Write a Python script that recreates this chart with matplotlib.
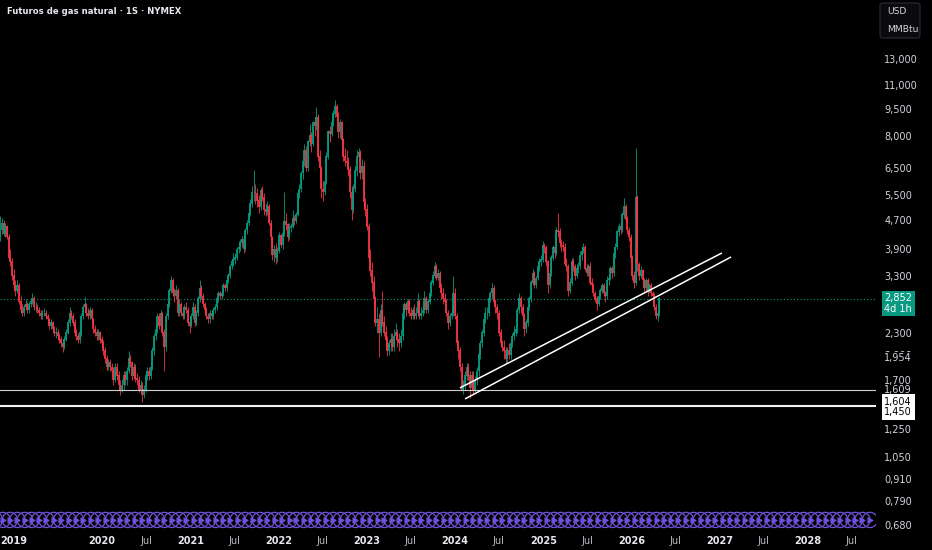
import numpy as np
import pandas as pd
import matplotlib
matplotlib.use('Agg')
import matplotlib.pyplot as plt
import matplotlib.dates as mdates
from matplotlib.ticker import NullLocator, FixedLocator
from matplotlib.patches import FancyBboxPatch

plt.rcParams['font.family'] = ['DejaVu Sans']

title = 'Futuros de gas natural · 1S · NYMEX'
first_week = '2018-11-05'
first_open = 4.2

# weekly closes (USD/MMBtu), one row per quarter
closes = [
    4.4, 4.6, 4.3, 4.5, 4.2, 3.7, 3.6, 3.3,
    3.1, 3.0, 3.1, 2.8, 2.65, 2.6, 2.7, 2.75, 2.65, 2.75, 2.8, 2.85, 2.7,
    2.7, 2.65, 2.6, 2.55, 2.6, 2.6, 2.55, 2.5, 2.4, 2.45, 2.35, 2.3, 2.3,
    2.25, 2.2, 2.15, 2.1, 2.2, 2.3, 2.45, 2.6, 2.55, 2.45, 2.3, 2.25, 2.2,
    2.3, 2.55, 2.7, 2.75, 2.6, 2.55, 2.65, 2.5, 2.35, 2.3, 2.25, 2.3, 2.2,
    2.15, 2.05, 1.95, 1.85, 1.9, 1.85, 1.8, 1.7, 1.85, 1.75, 1.65, 1.6, 1.65,
    1.75, 1.7, 1.8, 1.95, 1.9, 1.75, 1.85, 1.72, 1.7, 1.6, 1.65, 1.55, 1.6,
    1.75, 1.8, 1.75, 1.85, 2.05, 2.25, 2.35, 2.55, 2.4, 2.6, 2.3, 2.1, 2.55,
    2.75, 3.0, 3.2, 2.95, 2.9, 3.0, 2.6, 2.75, 2.6, 2.55, 2.7, 2.65, 2.45,
    2.4, 2.55, 2.7, 2.45, 2.6, 2.85, 3.05, 2.9, 2.75, 2.65, 2.55, 2.5, 2.6,
    2.55, 2.65, 2.7, 2.85, 2.95, 2.9, 2.95, 3.1, 3.05, 3.2, 3.3, 3.5, 3.6,
    3.65, 3.7, 3.9, 3.95, 4.05, 4.15, 3.9, 4.4, 4.6, 4.9, 5.2, 5.6, 5.6,
    5.55, 5.3, 5.1, 5.65, 5.4, 5.0, 4.95, 5.1, 4.6, 4.2, 3.75, 3.9, 3.7,
    3.85, 4.25, 4.0, 4.3, 4.65, 4.55, 4.2, 4.45, 4.5, 4.75, 4.65, 4.85, 5.55,
    5.7, 6.3, 6.8, 7.3, 6.5, 7.7, 8.0, 7.6, 8.7, 8.5, 9.0, 7.0, 6.5,
    5.7, 5.6, 6.0, 7.0, 8.2, 8.1, 8.7, 9.2, 9.6, 9.0, 8.2, 8.7, 7.8,
    7.0, 6.8, 6.75, 6.45, 5.6, 5.0, 5.7, 6.4, 7.0, 7.2, 6.3, 6.6, 5.25,
    5.0, 4.5, 3.7, 3.4, 3.15, 2.85, 2.45, 2.5, 2.3, 2.65, 2.45, 2.3, 2.2,
    2.05, 2.15, 2.2, 2.1, 2.25, 2.3, 2.2, 2.15, 2.25, 2.6, 2.75, 2.65, 2.8,
    2.6, 2.55, 2.65, 2.55, 2.6, 2.8, 2.55, 2.6, 2.65, 2.85, 2.65, 2.8, 2.95,
    3.15, 3.3, 3.5, 3.25, 3.35, 3.05, 2.95, 2.85, 2.8, 2.6, 2.45, 2.55, 2.6,
    2.95, 2.55, 2.15, 2.05, 1.85, 1.6, 1.65, 1.75, 1.85, 1.75, 1.62, 1.75, 1.6,
    1.7, 1.8, 2.0, 2.15, 2.3, 2.5, 2.6, 2.6, 2.85, 2.95, 3.05, 2.8, 2.7,
    2.6, 2.3, 2.15, 2.1, 2.05, 1.95, 2.05, 2.0, 2.15, 2.25, 2.3, 2.35, 2.65,
    2.85, 2.7, 2.55, 2.35, 2.45, 2.7, 2.85, 3.15, 3.35, 3.1, 3.25, 3.5, 3.6,
    3.65, 4.0, 3.95, 3.6, 3.1, 3.35, 3.7, 3.95, 3.8, 4.4, 4.35, 4.05, 4.0,
    3.95, 3.55, 3.5, 3.0, 3.15, 3.6, 3.5, 3.3, 3.45, 3.5, 3.75, 3.85, 3.95,
    3.45, 3.35, 3.5, 3.15, 3.1, 2.95, 2.85, 2.75, 2.9, 3.0, 3.1, 2.95, 2.9,
    3.2, 3.25, 3.45, 3.35, 3.8, 3.95, 4.35, 4.5, 4.4, 4.85, 5.1, 4.7, 4.4,
    4.2, 3.7, 3.3, 3.15, 5.4, 3.55, 3.3, 3.4, 3.2, 3.05, 3.2, 3.0, 3.1,
    2.95, 2.9, 2.7, 2.55, 2.6, 2.852,
]

highs = [
    4.8, 4.75, 4.7, 4.6, 4.55, 4.3, 3.9, 3.7,
    3.45, 3.2, 3.2, 3.15, 2.9, 2.75, 2.75, 2.85, 2.8, 2.8, 2.85, 2.95, 2.9,
    2.8, 2.75, 2.7, 2.65, 2.65, 2.68, 2.65, 2.58, 2.52, 2.5, 2.48, 2.4, 2.38,
    2.35, 2.3, 2.25, 2.2, 2.25, 2.35, 2.5, 2.7, 2.65, 2.6, 2.5, 2.35, 2.3,
    2.35, 2.6, 2.75, 2.88, 2.78, 2.68, 2.7, 2.68, 2.52, 2.42, 2.35, 2.35, 2.33,
    2.25, 2.2, 2.1, 2.0, 1.95, 1.95, 1.9, 1.85, 1.9, 1.9, 1.8, 1.7, 1.72,
    1.8, 1.8, 1.85, 2.05, 2.0, 1.92, 1.9, 1.88, 1.78, 1.75, 1.7, 1.68, 1.65,
    1.8, 1.85, 1.85, 1.9, 2.1, 2.3, 2.45, 2.6, 2.6, 2.65, 2.62, 2.35, 2.6,
    2.8, 3.05, 3.3, 3.25, 3.05, 3.1, 3.05, 2.85, 2.8, 2.7, 2.75, 2.8, 2.7,
    2.55, 2.6, 2.8, 2.75, 2.65, 2.9, 3.2, 3.1, 2.95, 2.8, 2.7, 2.6, 2.65,
    2.65, 2.7, 2.75, 2.9, 3.0, 3.0, 3.0, 3.15, 3.15, 3.25, 3.35, 3.55, 3.7,
    3.8, 3.8, 3.95, 4.1, 4.15, 4.25, 4.2, 4.45, 4.7, 4.95, 5.35, 5.8, 6.45,
    5.9, 5.75, 5.5, 5.75, 5.8, 5.55, 5.2, 5.3, 5.2, 4.7, 4.25, 4.0, 4.05,
    3.95, 4.35, 4.3, 4.4, 5.6, 4.9, 4.6, 4.6, 4.6, 5.0, 4.85, 4.95, 5.6,
    5.9, 6.4, 6.9, 7.6, 7.5, 7.8, 8.6, 8.2, 8.8, 9.0, 9.6, 9.2, 7.3,
    6.6, 6.0, 6.1, 7.2, 8.3, 8.5, 8.9, 9.4, 10.0, 9.8, 9.3, 8.9, 8.8,
    7.9, 7.4, 7.3, 7.0, 6.6, 5.8, 5.9, 6.6, 7.3, 7.4, 7.3, 6.9, 6.8,
    5.4, 5.2, 4.6, 3.9, 3.6, 3.3, 2.9, 2.7, 2.6, 2.75, 3.0, 2.55, 2.4,
    2.25, 2.2, 2.3, 2.3, 2.35, 2.45, 2.35, 2.3, 2.35, 2.7, 2.8, 2.8, 2.85,
    2.85, 2.7, 2.7, 2.75, 2.7, 2.95, 2.85, 2.7, 2.75, 3.0, 2.9, 2.85, 3.0,
    3.2, 3.4, 3.6, 3.55, 3.45, 3.4, 3.15, 3.05, 2.95, 2.85, 2.65, 2.6, 2.7,
    3.3, 3.05, 2.6, 2.2, 2.1, 1.9, 1.7, 1.8, 1.9, 1.9, 1.8, 1.8, 1.8,
    1.75, 1.85, 2.05, 2.2, 2.35, 2.55, 2.7, 2.7, 2.9, 3.0, 3.15, 3.1, 2.85,
    2.75, 2.65, 2.35, 2.2, 2.2, 2.1, 2.1, 2.15, 2.2, 2.3, 2.4, 2.4, 2.7,
    2.95, 2.9, 2.75, 2.6, 2.5, 2.75, 2.9, 3.2, 3.45, 3.4, 3.3, 3.6, 3.7,
    3.75, 4.1, 4.05, 4.0, 3.65, 3.45, 3.75, 4.0, 4.2, 4.5, 4.9, 4.45, 4.15,
    4.1, 4.05, 3.7, 3.55, 3.25, 3.7, 3.7, 3.55, 3.55, 3.6, 3.85, 3.95, 4.05,
    4.0, 3.55, 3.55, 3.6, 3.25, 3.15, 3.0, 2.9, 2.95, 3.05, 3.15, 3.15, 3.0,
    3.3, 3.35, 3.5, 3.5, 3.85, 4.05, 4.4, 4.6, 4.6, 4.95, 5.4, 5.2, 4.8,
    4.5, 4.3, 3.75, 3.4, 7.4, 5.5, 3.6, 3.5, 3.45, 3.25, 3.25, 3.25, 3.15,
    3.15, 3.0, 2.95, 2.75, 2.65, 2.88,
]

lows = [
    4.1, 4.3, 4.25, 4.2, 4.15, 3.65, 3.5, 3.2,
    3.0, 2.9, 2.95, 2.75, 2.6, 2.55, 2.55, 2.65, 2.6, 2.6, 2.7, 2.75, 2.65,
    2.62, 2.6, 2.55, 2.5, 2.5, 2.55, 2.5, 2.45, 2.35, 2.35, 2.3, 2.25, 2.22,
    2.2, 2.15, 2.1, 2.03, 2.08, 2.18, 2.28, 2.4, 2.5, 2.4, 2.25, 2.2, 2.15,
    2.15, 2.25, 2.5, 2.62, 2.55, 2.5, 2.5, 2.45, 2.3, 2.25, 2.2, 2.2, 2.15,
    2.1, 2.0, 1.9, 1.82, 1.82, 1.8, 1.75, 1.65, 1.68, 1.7, 1.6, 1.55, 1.58,
    1.6, 1.65, 1.65, 1.78, 1.85, 1.7, 1.72, 1.68, 1.65, 1.58, 1.58, 1.48, 1.52,
    1.58, 1.7, 1.7, 1.72, 1.82, 2.0, 2.2, 2.3, 2.35, 2.35, 2.25, 1.8, 2.05,
    2.5, 2.7, 2.95, 2.9, 2.8, 2.85, 2.55, 2.55, 2.55, 2.5, 2.5, 2.6, 2.4,
    2.3, 2.38, 2.5, 2.4, 2.42, 2.55, 2.8, 2.85, 2.7, 2.6, 2.5, 2.45, 2.45,
    2.5, 2.5, 2.6, 2.65, 2.8, 2.85, 2.85, 2.9, 3.0, 3.0, 3.15, 3.25, 3.45,
    3.5, 3.55, 3.65, 3.8, 3.85, 3.95, 3.8, 3.85, 4.3, 4.55, 4.8, 5.1, 5.3,
    5.2, 5.1, 4.9, 5.0, 5.3, 4.85, 4.8, 4.85, 4.55, 4.1, 3.65, 3.6, 3.55,
    3.6, 3.8, 3.95, 3.9, 4.25, 4.4, 4.1, 4.15, 4.35, 4.45, 4.55, 4.6, 4.8,
    5.4, 5.6, 6.1, 6.6, 6.4, 6.4, 7.5, 7.2, 7.5, 8.0, 8.3, 6.8, 6.1,
    5.4, 5.3, 5.5, 5.9, 6.9, 7.7, 8.0, 8.5, 9.0, 8.8, 7.9, 7.9, 7.6,
    6.8, 6.6, 6.5, 6.2, 5.4, 4.7, 4.9, 5.6, 6.2, 6.8, 6.1, 6.1, 5.1,
    4.8, 4.4, 3.6, 3.3, 3.0, 2.75, 2.4, 2.3, 1.97, 2.25, 2.4, 2.25, 2.1,
    1.99, 2.0, 2.05, 2.05, 2.05, 2.2, 2.1, 2.05, 2.1, 2.2, 2.5, 2.55, 2.6,
    2.55, 2.5, 2.5, 2.5, 2.5, 2.55, 2.5, 2.5, 2.55, 2.6, 2.6, 2.6, 2.75,
    2.9, 3.1, 3.25, 3.2, 3.2, 3.0, 2.85, 2.75, 2.75, 2.55, 2.35, 2.4, 2.5,
    2.55, 2.5, 2.1, 1.95, 1.8, 1.6, 1.56, 1.6, 1.7, 1.7, 1.52, 1.6, 1.57,
    1.58, 1.65, 1.75, 1.95, 2.1, 2.25, 2.45, 2.5, 2.55, 2.8, 2.85, 2.75, 2.6,
    2.5, 2.25, 2.1, 2.05, 1.95, 1.9, 1.9, 1.95, 1.95, 2.1, 2.2, 2.25, 2.3,
    2.6, 2.6, 2.5, 2.25, 2.3, 2.4, 2.65, 2.8, 3.1, 3.05, 3.05, 3.2, 3.4,
    3.5, 3.6, 3.8, 3.5, 2.95, 3.05, 3.3, 3.65, 3.7, 3.75, 4.2, 3.95, 3.85,
    3.85, 3.5, 3.4, 2.9, 2.95, 3.1, 3.4, 3.2, 3.25, 3.35, 3.45, 3.65, 3.8,
    3.4, 3.3, 3.3, 3.1, 3.05, 2.9, 2.8, 2.65, 2.72, 2.85, 2.95, 2.9, 2.8,
    2.85, 3.1, 3.2, 3.25, 3.3, 3.7, 3.9, 4.25, 4.3, 4.35, 4.75, 4.6, 4.3,
    4.1, 3.65, 3.2, 3.05, 3.1, 3.4, 3.2, 3.25, 3.1, 2.95, 3.0, 2.9, 2.95,
    2.9, 2.8, 2.65, 2.5, 2.48, 2.55,
]

# drawings on the chart
support_levels = [1.604, 1.450]
trend_upper = [('2024-01-22', 1.621), ('2027-01-11', 3.808)]
trend_lower = [('2024-02-12', 1.512), ('2027-02-18', 3.713)]

price_ticks = [13.0, 11.0, 9.5, 8.0, 6.5, 5.5, 4.7, 3.9, 3.3, 2.3, 2.0,
               1.7, 1.609, 1.25, 1.05, 0.91, 0.79, 0.68]
marked_price = 1.954
years = list(range(2019, 2029))
jul_years = list(range(2020, 2029))

GREEN = '#089981'
RED = '#f23645'
TXT = '#d1d4dc'
PURPLE = '#6e52d8'


def fmt(v):
    return f'{v:.3f}'.replace('.', ',')


closes = np.array(closes)
highs = np.array(highs)
lows = np.array(lows)
opens = np.r_[first_open, closes[:-1]]
dates = pd.date_range(first_week, periods=len(closes), freq='7D')
x = mdates.date2num(dates.to_pydatetime())
up = closes >= opens
cols = np.where(up, GREEN, RED)

fig = plt.figure(figsize=(9.32, 5.5), dpi=100, facecolor='black')
ax = fig.add_axes([0, 20 / 550, 876 / 932, 530 / 550])
ax.set_facecolor('black')
for s in ax.spines.values():
    s.set_visible(False)

ax.set_yscale('log')
ax.set_ylim(0.6595, 18.88)
ax.set_xlim(mdates.date2num(pd.Timestamp('2018-11-04')),
            mdates.date2num(pd.Timestamp('2028-10-10')))

# candles
ax.vlines(x, lows, highs, colors=cols, lw=0.6, zorder=2)
ax.vlines(x, np.minimum(opens, closes), np.maximum(opens, closes) * 1.003,
          colors=cols, lw=1.3, zorder=2)

# last price dotted line
ax.axhline(closes[-1], color=GREEN, lw=0.8, ls=(0, (1, 2)), zorder=1)

# horizontal supports
ax.axhline(support_levels[0], color='#cfcfcf', lw=0.8, zorder=3)
ax.axhline(support_levels[1], color='#f0f0f0', lw=1.5, zorder=3)

# channel lines
for line in (trend_upper, trend_lower):
    xs = [mdates.date2num(pd.Timestamp(d)) for d, _ in line]
    ys = [p for _, p in line]
    ax.plot(xs, ys, color='white', lw=1.1, solid_capstyle='butt', zorder=4)

# event markers band at the bottom
ev = pd.date_range('2018-10-01', '2028-09-01', freq='MS') + pd.Timedelta(days=14)
evx = mdates.date2num(ev.to_pydatetime())
ax.scatter(evx, np.full(len(evx), 0.019), s=120, facecolors='none',
           edgecolors=PURPLE, linewidths=0.9, transform=ax.get_xaxis_transform(),
           zorder=5)
ax.scatter(evx, np.full(len(evx), 0.019), s=12, marker='>', color=PURPLE,
           transform=ax.get_xaxis_transform(), zorder=5)

# y axis on right
ax.yaxis.tick_right()
ax.yaxis.set_major_locator(FixedLocator(price_ticks))
ax.yaxis.set_minor_locator(NullLocator())
ax.set_yticklabels([fmt(v) for v in price_ticks])
ax.tick_params(axis='y', length=0, pad=6, labelsize=7, labelcolor=TXT)

# x axis
xt = [pd.Timestamp(f'{y}-01-01') for y in years] + \
     [pd.Timestamp(f'{y}-07-01') for y in jul_years]
xl = [str(y) for y in years] + ['Jul'] * len(jul_years)
order = np.argsort(xt)
xt = [xt[i] for i in order]
xl = [xl[i] for i in order]
ax.set_xticks(mdates.date2num(xt))
ax.set_xticklabels(xl)
ax.xaxis.set_minor_locator(NullLocator())
ax.tick_params(axis='x', length=0, pad=4, labelsize=7, labelcolor=TXT)
for lab in ax.get_xticklabels():
    if lab.get_text() != 'Jul':
        lab.set_fontweight('bold')
        lab.set_color('#e6e8ee')
    else:
        lab.set_color('#b8bbc4')

ytr = ax.get_yaxis_transform()
lx = 1.0 + 8 / 876

# marked price label, drawn over the 2,000 tick as in the source
ax.text(lx, marked_price, fmt(marked_price), transform=ytr, ha='left', va='center',
        fontsize=7, color=TXT, zorder=10,
        bbox=dict(boxstyle='square,pad=0.1', fc='black', ec='none'), clip_on=False)

# last price box
ax.annotate(fmt(closes[-1]) + '\n4d 1h', xy=(1.0, closes[-1]), xycoords=ytr,
            xytext=(6, 4), textcoords='offset points', ha='left', va='top',
            fontsize=7, color='white', linespacing=1.1, zorder=10,
            bbox=dict(boxstyle='square,pad=0.25', fc=GREEN, ec='none'),
            annotation_clip=False)

# support price box
ax.annotate(fmt(support_levels[0]) + '\n' + fmt(support_levels[1]),
            xy=(1.0, support_levels[0]), xycoords=ytr,
            xytext=(6, -5), textcoords='offset points', ha='left', va='top',
            fontsize=7, color='black', linespacing=1.1, zorder=10,
            bbox=dict(boxstyle='square,pad=0.25', fc='white', ec='none'),
            annotation_clip=False)

# title and unit box
fig.text(7 / 932, 1 - 12 / 550, title, ha='left', va='center', fontsize=6.1,
         fontweight='bold', color='#e6e8ee')
fig.add_artist(FancyBboxPatch((880 / 932, 1 - 38 / 550), 40 / 932, 35 / 550,
                              boxstyle='round,pad=0,rounding_size=0.004',
                              transform=fig.transFigure, fc='#0b0b0d',
                              ec='#2a2e39', lw=0.8))
fig.text(887 / 932, 1 - 12 / 550, 'USD', ha='left', va='center', fontsize=6.6, color=TXT)
fig.text(887 / 932, 1 - 29 / 550, 'MMBtu', ha='left', va='center', fontsize=6.6, color=TXT)

fig.savefig('out.png', dpi=100, facecolor='black')
